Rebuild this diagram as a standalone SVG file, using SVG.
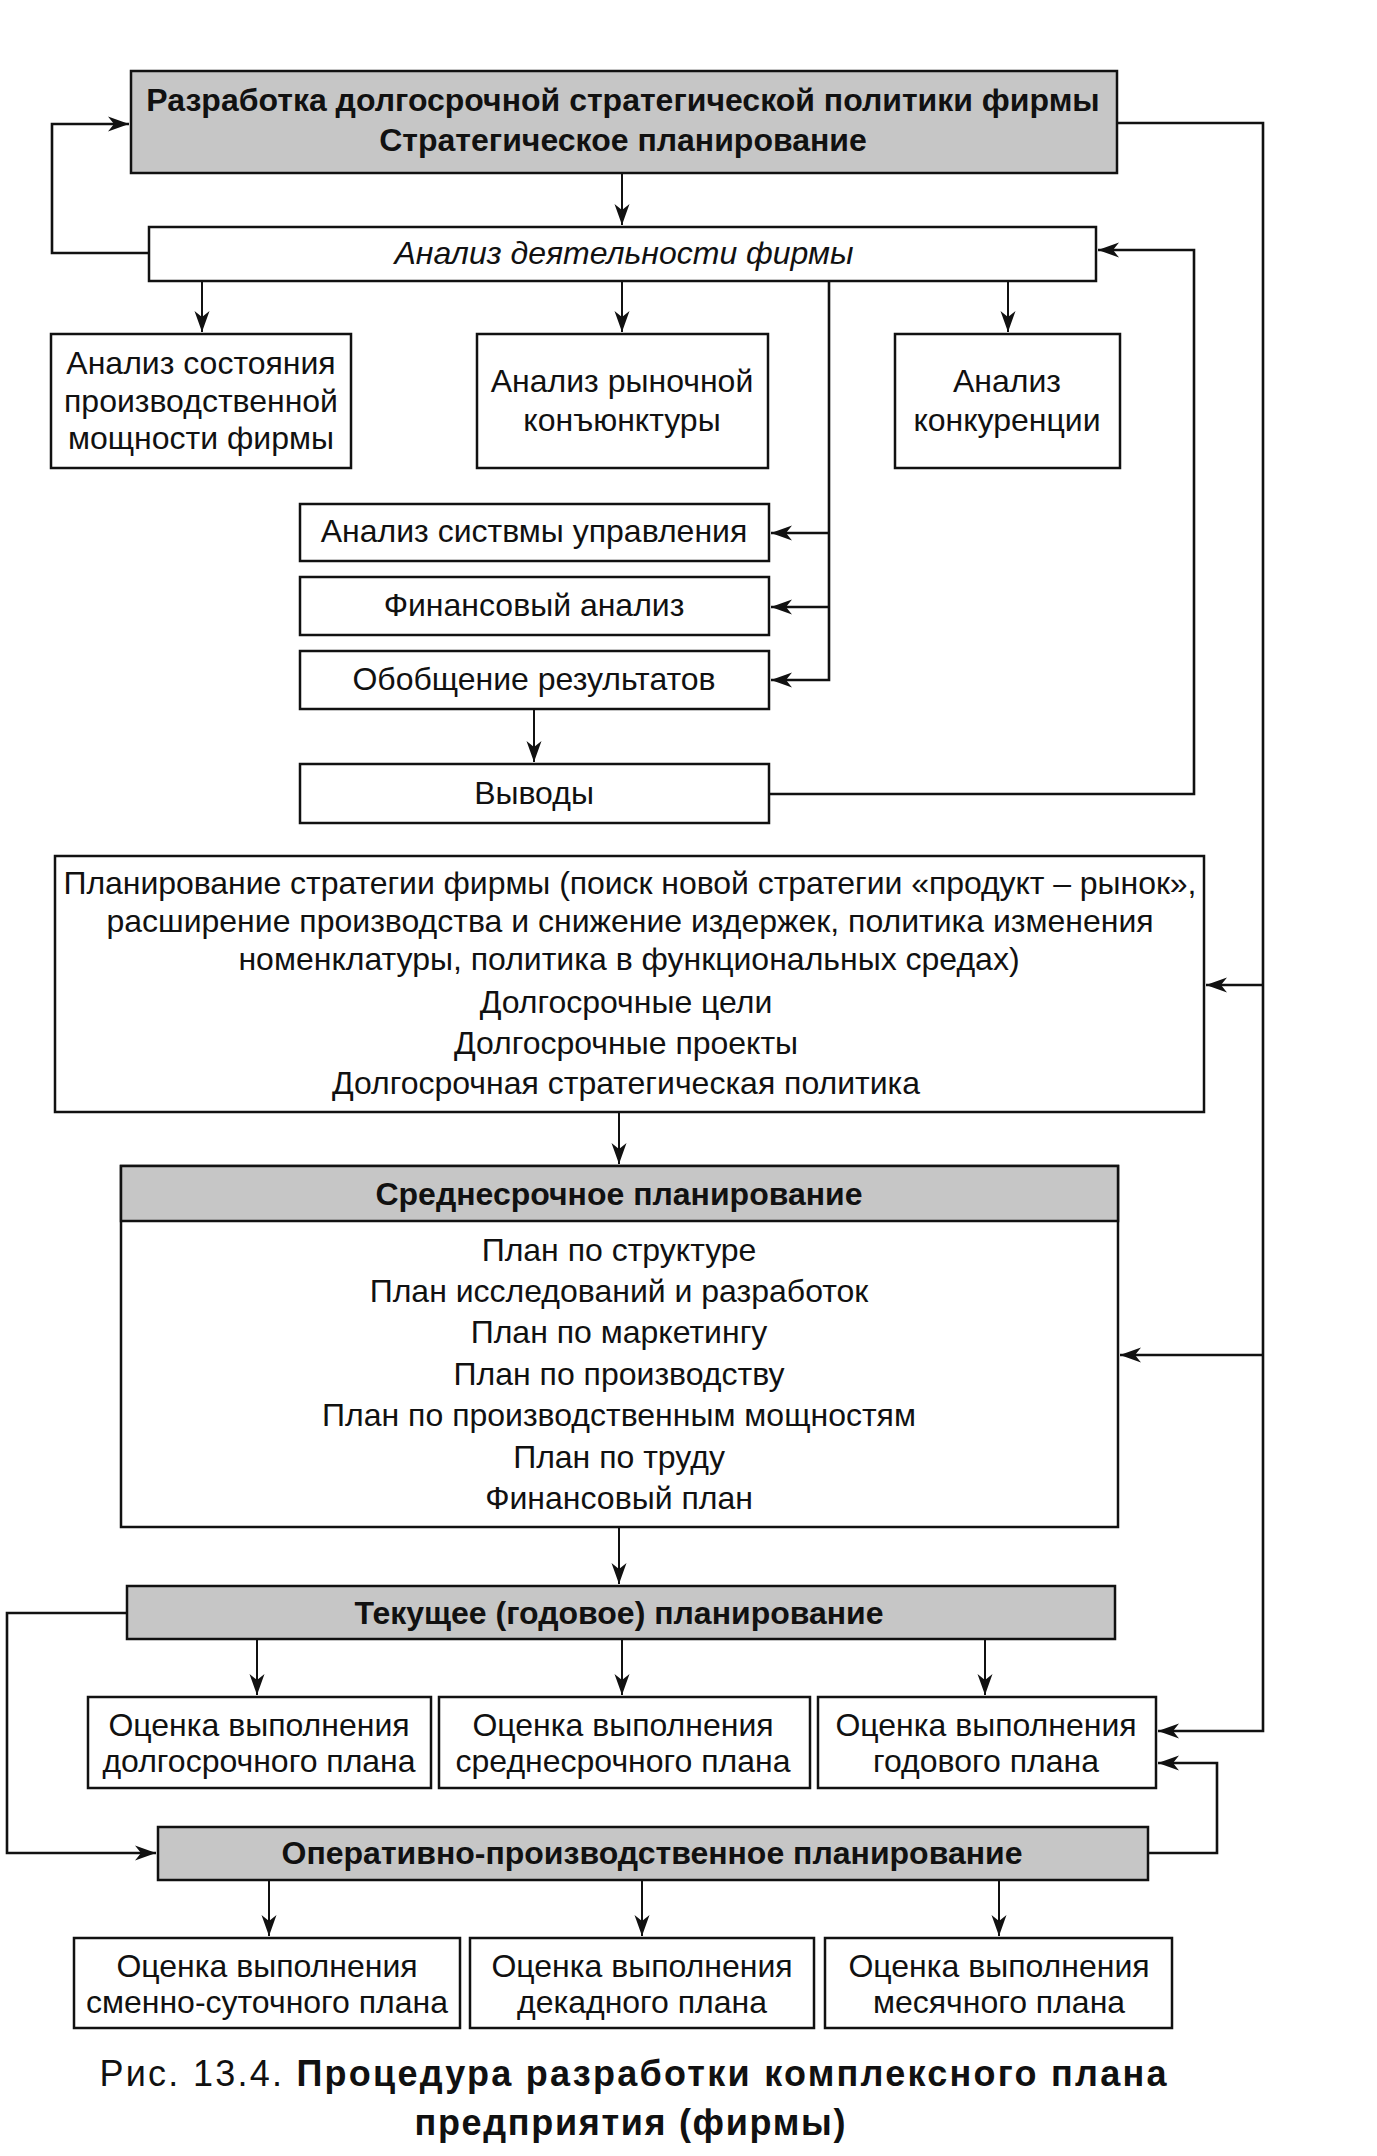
<svg xmlns="http://www.w3.org/2000/svg" width="1377" height="2156" viewBox="0 0 1377 2156">
<style>
.box{fill:#fff;stroke:#111;stroke-width:2.5}
.gray{fill:#c6c6c6;stroke:#111;stroke-width:2.5}
.t{font-family:"Liberation Sans",Arial,sans-serif;font-size:32px;fill:#111;text-anchor:middle}
.b{font-weight:bold}
.i{font-style:italic}
.c{fill:none;stroke:#111;stroke-width:2}
.h{fill:none;stroke:#111;stroke-width:2.6}
</style>
<defs>
<marker id="ar" markerUnits="userSpaceOnUse" markerWidth="22" markerHeight="16" refX="21" refY="8" orient="auto">
<path d="M0,0.5 L21,8 L0,15.5 L6,8 z" fill="#111"/>
</marker>
</defs>
<rect width="1377" height="2156" fill="#fff"/>

<g id="connectors">
<path class="c" d="M622,173 V225" marker-end="url(#ar)"/>
<path class="h" d="M149,253 H52 V124 H129" marker-end="url(#ar)"/>
<path class="h" d="M1117,123 H1263 V1731 H1158" marker-end="url(#ar)"/>
<path class="h" d="M1263,985 H1206" marker-end="url(#ar)"/>
<path class="h" d="M1263,1355 H1120" marker-end="url(#ar)"/>
<path class="h" d="M769,794 H1194 V250 H1098" marker-end="url(#ar)"/>
<path class="c" d="M202,281 V332" marker-end="url(#ar)"/>
<path class="c" d="M622,281 V332" marker-end="url(#ar)"/>
<path class="c" d="M1008,281 V332" marker-end="url(#ar)"/>
<path class="h" d="M829,281 V680 H771" marker-end="url(#ar)"/>
<path class="h" d="M829,533 H771" marker-end="url(#ar)"/>
<path class="h" d="M829,607 H771" marker-end="url(#ar)"/>
<path class="c" d="M534,709 V762" marker-end="url(#ar)"/>
<path class="c" d="M619,1112 V1164" marker-end="url(#ar)"/>
<path class="c" d="M619,1527 V1584" marker-end="url(#ar)"/>
<path class="h" d="M127,1613 H7 V1853 H156" marker-end="url(#ar)"/>
<path class="c" d="M257,1639 V1695" marker-end="url(#ar)"/>
<path class="c" d="M622,1639 V1695" marker-end="url(#ar)"/>
<path class="c" d="M985,1639 V1695" marker-end="url(#ar)"/>
<path class="h" d="M1148,1853 H1217 V1763 H1158" marker-end="url(#ar)"/>
<path class="c" d="M269,1880 V1936" marker-end="url(#ar)"/>
<path class="c" d="M642,1880 V1936" marker-end="url(#ar)"/>
<path class="c" d="M999,1880 V1936" marker-end="url(#ar)"/>
</g>

<g id="strategic">
<rect class="gray" x="131" y="71" width="986" height="102"/>
<text class="t b" x="623" y="111">Разработка долгосрочной стратегической политики фирмы</text>
<text class="t b" x="623" y="151">Стратегическое планирование</text>
</g>

<g id="analysis">
<rect class="box" x="149" y="227" width="947" height="54"/>
<text class="t i" x="624" y="264">Анализ деятельности фирмы</text>
</g>

<g id="capacity">
<rect class="box" x="51" y="334" width="300" height="134"/>
<text class="t" x="201" y="374">Анализ состояния</text>
<text class="t" x="201" y="412">производственной</text>
<text class="t" x="201" y="449">мощности фирмы</text>
</g>

<g id="market">
<rect class="box" x="477" y="334" width="291" height="134"/>
<text class="t" x="622" y="392">Анализ рыночной</text>
<text class="t" x="622" y="431">конъюнктуры</text>
</g>

<g id="competition">
<rect class="box" x="895" y="334" width="225" height="134"/>
<text class="t" x="1007" y="392">Анализ</text>
<text class="t" x="1007" y="431">конкуренции</text>
</g>

<g id="management">
<rect class="box" x="300" y="504" width="469" height="57"/>
<text class="t" x="534" y="542">Анализ систвмы управления</text>
</g>

<g id="financial">
<rect class="box" x="300" y="577" width="469" height="58"/>
<text class="t" x="534" y="616">Финансовый анализ</text>
</g>

<g id="summary">
<rect class="box" x="300" y="651" width="469" height="58"/>
<text class="t" x="534" y="690">Обобщение результатов</text>
</g>

<g id="conclusions">
<rect class="box" x="300" y="764" width="469" height="59"/>
<text class="t" x="534" y="804">Выводы</text>
</g>

<g id="strategy">
<rect class="box" x="55" y="856" width="1149" height="256"/>
<text class="t" x="630" y="894" textLength="1133">Планирование стратегии фирмы (поиск новой стратегии «продукт – рынок»,</text>
<text class="t" x="630" y="932">расширение производства и снижение издержек, политика изменения</text>
<text class="t" x="629" y="970">номенклатуры, политика в функциональных средах)</text>
<text class="t" x="626" y="1013">Долгосрочные цели</text>
<text class="t" x="626" y="1054">Долгосрочные проекты</text>
<text class="t" x="626" y="1094">Долгосрочная стратегическая политика</text>
</g>

<g id="midterm">
<rect class="box" x="121" y="1166" width="997" height="361"/>
<rect class="gray" x="121" y="1166" width="997" height="55"/>
<text class="t b" x="619" y="1205">Среднесрочное планирование</text>
<text class="t" x="619" y="1261">План по структуре</text>
<text class="t" x="619" y="1302">План исследований и разработок</text>
<text class="t" x="619" y="1343">План по маркетингу</text>
<text class="t" x="619" y="1385">План по производству</text>
<text class="t" x="619" y="1426">План по производственным мощностям</text>
<text class="t" x="619" y="1468">План по труду</text>
<text class="t" x="619" y="1509">Финансовый план</text>
</g>

<g id="current">
<rect class="gray" x="127" y="1586" width="988" height="53"/>
<text class="t b" x="619" y="1624">Текущее (годовое) планирование</text>
</g>

<g id="eval-long">
<rect class="box" x="88" y="1697" width="343" height="91"/>
<text class="t" x="259" y="1736">Оценка выполнения</text>
<text class="t" x="259" y="1772">долгосрочного плана</text>
</g>

<g id="eval-mid">
<rect class="box" x="439" y="1697" width="371" height="91"/>
<text class="t" x="623" y="1736">Оценка выполнения</text>
<text class="t" x="623" y="1772">среднесрочного плана</text>
</g>

<g id="eval-year">
<rect class="box" x="818" y="1697" width="338" height="91"/>
<text class="t" x="986" y="1736">Оценка выполнения</text>
<text class="t" x="986" y="1772">годового плана</text>
</g>

<g id="operational">
<rect class="gray" x="158" y="1827" width="990" height="53"/>
<text class="t b" x="652" y="1864">Оперативно-производственное планирование</text>
</g>

<g id="eval-shift">
<rect class="box" x="74" y="1938" width="386" height="90"/>
<text class="t" x="267" y="1977">Оценка выполнения</text>
<text class="t" x="267" y="2013">сменно-суточного плана</text>
</g>

<g id="eval-decade">
<rect class="box" x="470" y="1938" width="344" height="90"/>
<text class="t" x="642" y="1977">Оценка выполнения</text>
<text class="t" x="642" y="2013">декадного плана</text>
</g>

<g id="eval-month">
<rect class="box" x="825" y="1938" width="347" height="90"/>
<text class="t" x="999" y="1977">Оценка выполнения</text>
<text class="t" x="999" y="2013">месячного плана</text>
</g>

<g id="caption">
<text class="t" x="633" y="2086" style="font-size:36px" textLength="1067"><tspan>Рис. 13.4. </tspan><tspan class="b">Процедура разработки комплексного плана</tspan></text>
<text class="t b" x="630" y="2135" style="font-size:36px" textLength="431">предприятия (фирмы)</text>
</g>
</svg>
